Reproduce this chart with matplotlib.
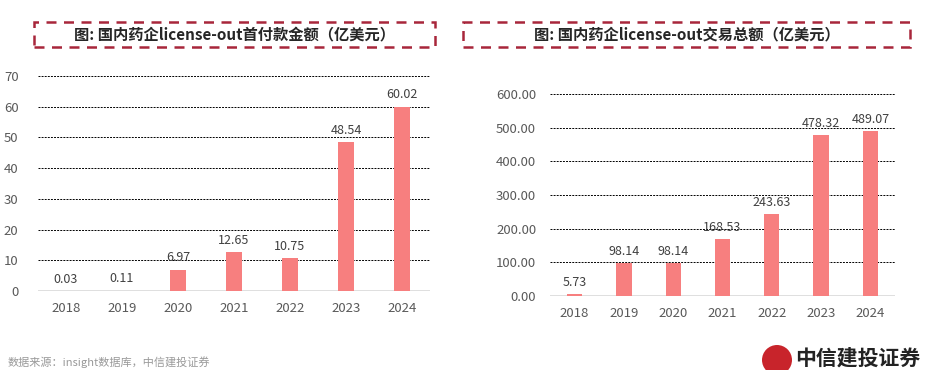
import matplotlib
matplotlib.use("Agg")
import matplotlib.pyplot as plt
from matplotlib.patches import Rectangle, Circle

plt.rcParams['font.family'] = ['Noto Sans CJK SC', 'DejaVu Sans']

years = ["2018", "2019", "2020", "2021", "2022", "2023", "2024"]
upfront = [0.03, 0.11, 6.97, 12.65, 10.75, 48.54, 60.02]
total = [5.73, 98.14, 98.14, 168.53, 243.63, 478.32, 489.07]

title_left = "图: 国内药企license-out首付款金额（亿美元）"
title_right = "图: 国内药企license-out交易总额（亿美元）"
source = "数据来源：insight数据库，中信建投证券"

BAR = "#F77F7F"
TICK = "#595959"
BOX = "#A8263B"

W, H = 937, 370
fig = plt.figure(figsize=(W / 100, H / 100), dpi=100)


def box(x0, y0, x1, y1):
    return [x0 / W, 1 - y1 / H, (x1 - x0) / W, (y1 - y0) / H]


def draw(ax, vals, ymax, step, fmt, lbl_fmt, width):
    x = range(len(years))
    ax.bar(x, vals, width=width, color=BAR, zorder=3)
    ax.set_xlim(-0.5, len(years) - 0.5)
    ax.set_ylim(0, ymax)
    ticks = [i * step for i in range(int(ymax / step) + 1)]
    ax.set_yticks(ticks)
    ax.set_yticklabels([fmt.format(t) for t in ticks])
    for t in ticks[1:]:
        ax.axhline(t, color="black", lw=0.7, ls=(0, (2, 1.2)), zorder=1)
    ax.axhline(0, color="#D9D9D9", lw=1.2, zorder=2)
    ax.set_xticks(list(x))
    ax.set_xticklabels(years)
    for s in ax.spines.values():
        s.set_visible(False)
    ax.tick_params(length=0, colors=TICK, labelsize=9.5, pad=8)
    ax.tick_params(axis="y", pad=10)
    for i, v in zip(x, vals):
        ax.text(i, v + ymax * 0.025, lbl_fmt.format(v), ha="center", va="bottom",
                fontsize=9, color="#404040", zorder=4)


ax1 = fig.add_axes(box(38, 76, 430, 291))
draw(ax1, upfront, 70, 10, "{:.0f}", "{:.2f}", 0.3)
ax1.tick_params(axis="y", pad=14)

ax2 = fig.add_axes(box(550, 94, 895, 296))
draw(ax2, total, 600, 100, "{:.2f}", "{:.2f}", 0.31)

# dashed title boxes
for (x0, x1), t in [((34, 435), title_left), ((463, 910), title_right)]:
    fig.patches.append(Rectangle((x0 / W, 1 - 47 / H), (x1 - x0) / W, 25 / H,
                                 transform=fig.transFigure, fill=False,
                                 ec=BOX, lw=1.8, ls=(0, (4, 3))))
    fig.text((x0 + x1) / 2 / W, 1 - 34.5 / H, t, ha="center", va="center",
             fontsize=11, fontweight="bold", color="#262626")

# logo (circle in inches so it stays round)
fig.patches.append(Circle((7.77, 0.10), 0.15, transform=fig.dpi_scale_trans,
                          fc="#C8242B", ec="none"))
fig.text(795 / W, 1 - 358 / H, "中信建投证券", ha="left", va="center",
         fontsize=15, fontweight="bold", color="#222222")

fig.text(8 / W, 1 - 362 / H, source, ha="left", va="center", fontsize=8, color="#999999")

fig.savefig("out.png", dpi=100)
